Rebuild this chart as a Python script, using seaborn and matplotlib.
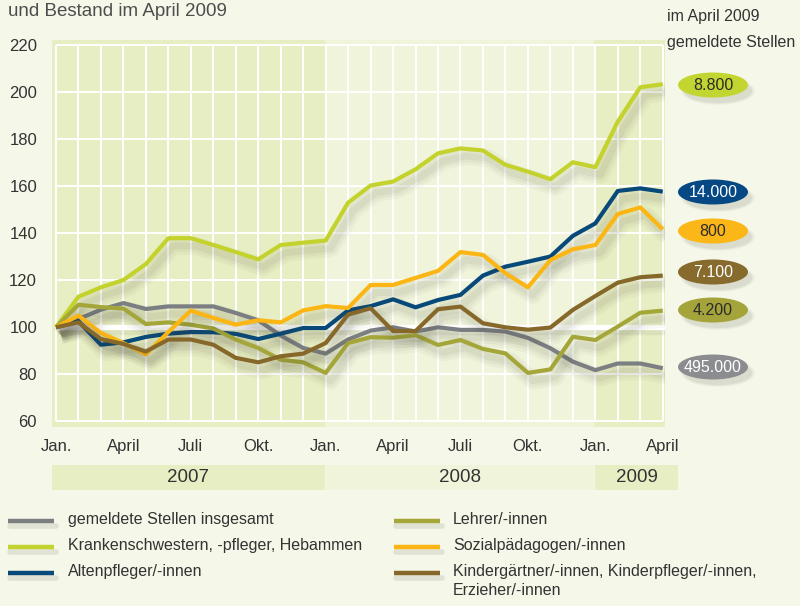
import numpy as np
import pandas as pd
import matplotlib
matplotlib.use("Agg")
import matplotlib.pyplot as plt
import seaborn as sns
from matplotlib import patheffects as pe
from matplotlib.patches import Ellipse, Rectangle
from matplotlib.lines import Line2D
from matplotlib.transforms import blended_transform_factory

# ---------------- data ----------------
months = list(range(28))  # Jan 2007 ... April 2009
tick_pos = [0, 3, 6, 9, 12, 15, 18, 21, 24, 27]
tick_labels = ["Jan.", "April", "Juli", "Okt.", "Jan.", "April", "Juli", "Okt.", "Jan.", "April"]
y_ticks = [60, 80, 100, 120, 140, 160, 180, 200, 220]
years = ["2007", "2008", "2009"]
year_start = [-0.19, 12.0, 24.0]
year_end = [11.95, 23.93, 27.7]

insgesamt = [100, 103.5, 107.5, 110.3, 107.8, 108.9, 108.9, 108.9, 106.1, 103.0, 96.5, 91.2, 88.8, 94.8,
             98.6, 100.0, 98.2, 100.0, 98.9, 98.9, 98.2, 95.5, 91.1, 85.4, 81.8, 84.6, 84.6, 82.6]
kranken = [100, 113.0, 117.0, 120.1, 126.9, 137.9, 137.9, 135.0, 132.0, 128.9, 135.0, 136.0, 136.9, 153.0,
           160.3, 162.0, 167.2, 174.0, 176.1, 175.2, 169.1, 166.2, 163.0, 170.2, 168.1, 187.5, 202.1, 203.4]
alten = [100, 102.6, 92.6, 93.6, 95.9, 97.3, 98.0, 97.9, 97.2, 95.0, 97.3, 99.7, 99.7, 107.2,
         109.0, 111.9, 108.5, 111.6, 113.8, 122.0, 125.8, 127.9, 130.1, 138.9, 144.2, 158.0, 159.1, 157.7]
lehrer = [100, 109.6, 108.6, 108.0, 101.4, 102.1, 101.1, 99.5, 94.8, 91.2, 86.2, 85.1, 80.6, 93.3,
          95.8, 95.6, 96.7, 92.5, 94.6, 90.8, 88.9, 80.6, 82.1, 96.0, 94.6, 100.3, 106.2, 107.1]
sozial = [100, 105.0, 97.6, 93.3, 88.5, 98.0, 107.1, 104.0, 101.1, 103.0, 102.1, 107.2, 109.0, 108.2,
          118.0, 118.0, 121.0, 124.0, 132.0, 130.8, 123.0, 117.0, 128.6, 133.2, 135.0, 148.2, 151.0, 141.7]
kinder = [100, 102.1, 95.0, 92.9, 89.7, 94.8, 94.8, 92.6, 87.0, 85.1, 87.7, 88.8, 93.3, 105.4,
          108.1, 98.4, 98.4, 107.7, 108.8, 101.7, 100.0, 99.0, 99.9, 107.4, 113.3, 119.0, 121.3, 122.0]

names = ["gemeldete Stellen insgesamt",
         "Krankenschwestern, -pfleger, Hebammen",
         "Altenpfleger/-innen",
         "Lehrer/-innen",
         "Sozialpädagogen/-innen",
         "Kindergärtner/-innen, Kinderpfleger/-innen,\nErzieher/-innen"]
series = [insgesamt, kranken, alten, lehrer, sozial, kinder]
colors = ["#7b7f82", "#c3d22c", "#074a7a", "#a4a63a", "#fbb615", "#86692a"]
end_labels = ["495.000", "8.800", "14.000", "4.200", "800", "7.100"]
end_label_colors = ["#8a8c8f", "#c3d530", "#054884", "#a5a43b", "#fbb617", "#866b2c"]
end_label_text = ["white", "#2b2b2b", "white", "#2b2b2b", "#2b2b2b", "white"]
end_label_y = [367, 85, 192, 310, 231, 272]   # label layout (pixel rows)

# ---------------- style ----------------
sns.set_theme(style="white")
plt.rcParams["font.family"] = ["Liberation Sans", "DejaVu Sans"]

BG = "#f5f7e8"
DARK = "#e7eec3"
LIGHT = "#f0f4da"

fig = plt.figure(figsize=(8, 6.06), dpi=100, facecolor=BG)
W, H = 800, 606

# overlay in pixel coordinates for labels / legend
ov = fig.add_axes([0, 0, 1, 1], zorder=0)
ov.set_xlim(0, W)
ov.set_ylim(H, 0)
ov.axis("off")
ov.patch.set_visible(False)

ax = fig.add_axes([51.7 / W, 1 - 427 / H, (665 - 51.7) / W, 387 / H], zorder=1)
ax.set_xlim(-0.19, 27.1)
ax.set_ylim(57.6, 222.2)
ax.set_facecolor(DARK)
for s in ax.spines.values():
    s.set_visible(False)

# lighter 2008 region
ax.axvspan(year_start[1] - 0.05, year_start[2] - 0.05, color=LIGHT, lw=0, zorder=0)

# grid
ax.hlines(y_ticks, 0, 27, color="white", lw=1.4, zorder=1)
ax.vlines(months, 60, 220, color="white", lw=1.4, zorder=1)
ax.hlines([100], 0, 27.1, color="white", lw=3.8, zorder=1.5,
          path_effects=[pe.SimpleLineShadow(offset=(1.5, -3), shadow_color="#808070", alpha=0.12, linewidth=6),
                        pe.Normal()])

# series lines
df = pd.DataFrame({
    "Monat": months * len(series),
    "Index": np.concatenate(series),
    "Reihe": np.repeat(names, len(months)),
})
shadow = [pe.SimpleLineShadow(offset=(3.5, -5.5), shadow_color="#404030", alpha=0.035, linewidth=13),
          pe.SimpleLineShadow(offset=(3.5, -5.5), shadow_color="#404030", alpha=0.045, linewidth=9),
          pe.SimpleLineShadow(offset=(3.5, -5.5), shadow_color="#404030", alpha=0.06, linewidth=5),
          pe.Normal()]
sns.lineplot(data=df, x="Monat", y="Index", hue="Reihe", hue_order=names,
             palette=dict(zip(names, colors)), lw=3.0, legend=False, ax=ax,
             path_effects=shadow, zorder=3, solid_capstyle="butt")

ax.set_xlabel("")
ax.set_ylabel("")
ax.set_xticks(tick_pos, tick_labels)
ax.set_yticks(y_ticks, [str(v) for v in y_ticks])
ax.tick_params(axis="x", length=0, pad=8.5, labelsize=12, labelcolor="#333333")
ax.tick_params(axis="y", length=0, pad=10.5, labelsize=12, labelcolor="#333333")
ax.grid(False)

# year bar
trans = blended_transform_factory(ax.transData, ov.transData)
year_cols = [DARK, LIGHT, DARK]
for yl, s, e, c in zip(years, year_start, year_end, year_cols):
    ov.add_patch(Rectangle((s, 465), e - s, 25, transform=trans, color=c, lw=0, clip_on=False))
    ov.text((s + e) / 2, 478, yl, transform=trans, ha="center", va="center",
            fontsize=13.5, color="#333333")

# titles
ov.text(8, 11, "und Bestand im April 2009", ha="left", va="center", fontsize=13.5, color="#4d4d4d")
ov.text(667, 17, "im April 2009", ha="left", va="center", fontsize=11.5, color="#333333")
ov.text(667, 43, "gemeldete Stellen", ha="left", va="center", fontsize=11.5, color="#333333")

# end labels (ellipses)
for lab, fc, tc, yy in zip(end_labels, end_label_colors, end_label_text, end_label_y):
    for k, a in enumerate([0.04, 0.05, 0.07]):
        ov.add_patch(Ellipse((718, yy + 6), 74 - k * 3, 28 - k * 2, color="#505040", alpha=a, lw=0))
    ov.add_patch(Ellipse((713, yy), 70, 25, color=fc, lw=0))
    ov.text(713, yy + 0.5, lab, ha="center", va="center", fontsize=11.5, color=tc)

# legend (manual, two columns)
leg_x_line = [8, 394]
leg_x_text = [68, 453]
leg_rows = [521, 547, 573]
for idx, (nm, c) in enumerate(zip(names, colors)):
    col, row = divmod(idx, 3)
    yy = leg_rows[row]
    x0 = leg_x_line[col]
    ov.add_line(Line2D([x0 + 2, x0 + 48], [yy + 5, yy + 5], color="#909080", alpha=0.2, lw=4))
    ov.add_line(Line2D([x0, x0 + 46], [yy, yy], color=c, lw=3.2, solid_capstyle="butt"))
    ov.text(leg_x_text[col], yy - 9, nm, ha="left", va="top", fontsize=11.5,
            color="#333333", linespacing=1.32)

fig.savefig("out.png", dpi=100, facecolor=BG)
